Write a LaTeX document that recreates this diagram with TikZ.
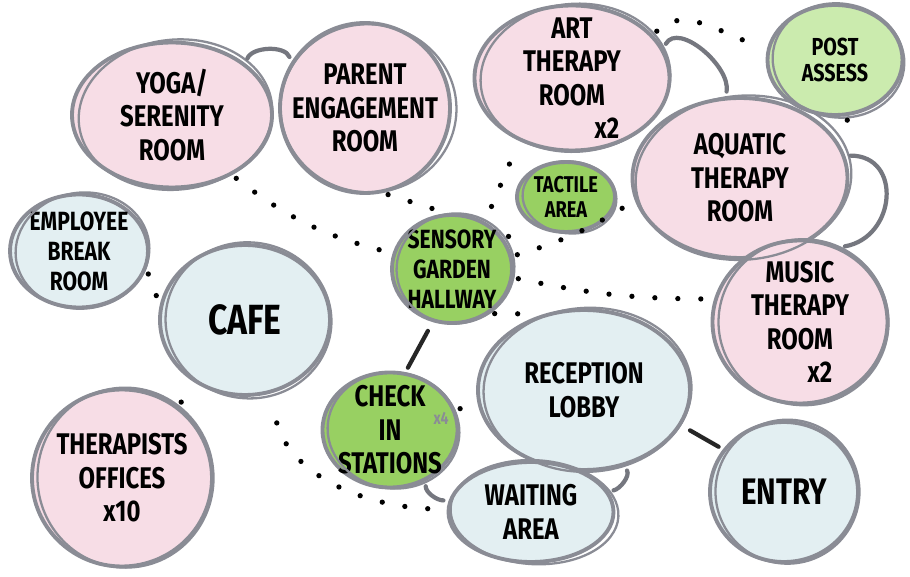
\documentclass[tikz,border=0pt]{standalone}
\usepackage{fontspec}
\usetikzlibrary{positioning,shapes.geometric}
\newfontfamily\hand[FakeStretch=0.8]{Fira Sans}
\definecolor{bubPink}{HTML}{F7DDE6}
\definecolor{bubBlue}{HTML}{E3EFF2}
\definecolor{bubGreen}{HTML}{98D062}
\definecolor{bubLime}{HTML}{CBEBAE}
\definecolor{rimGray}{HTML}{8A8C95}

\begin{document}
\begin{tikzpicture}[x=0.2mm, y=-0.2mm,
        bub/.style={ellipse, draw=rimGray, line width=2.2pt, inner sep=-4mm, align=center,
            font=\hand\bfseries\fontsize{17}{19}\selectfont},
        pinkbub/.style={bub, fill=bubPink},
        bluebub/.style={bub, fill=bubBlue},
        greenbub/.style={bub, fill=bubGreen},
        limebub/.style={bub, fill=bubLime},
        rim/.style={draw=rimGray, line width=1.3pt},
        dotlink/.style={draw=black, line width=3pt, line cap=round, dash pattern=on 0pt off 4.6mm,
            shorten <=3pt, shorten >=3pt},
        solidlink/.style={draw=black!85, line width=2.4pt, line cap=round, shorten <=2mm, shorten >=1mm},
        arclink/.style={draw=rimGray!85!black, line width=2.4pt, line cap=round, shorten <=3pt, shorten >=3pt},
        note/.style={text=rimGray, font=\hand\bfseries\fontsize{10}{11}\selectfont}
    ]

    \fill[white] (0,0) rectangle (910,577);
    \useasboundingbox (0,0) rectangle (910,577);

    % top row
    \node[pinkbub, minimum width=40mm, minimum height=29mm] (yoga) at (172,115) {YOGA/\\SERENITY\\ROOM};
    \node[pinkbub, minimum width=34mm, minimum height=34mm] (parent) at (365,108) {PARENT\\ENGAGEMENT\\ROOM};
    \node[pinkbub, minimum width=39mm, minimum height=29mm] (art) at (572,78) {ART\\THERAPY\\ROOM\\\hspace*{14mm}x2};
    \node[limebub, minimum width=27mm, minimum height=22mm, font=\hand\bfseries\fontsize{14}{15}\selectfont] (post) at (835,60) {POST\\ASSESS};
    \node[pinkbub, minimum width=43mm, minimum height=32mm] (aquatic) at (740,178) {AQUATIC\\THERAPY\\ROOM};

    % middle row
    \node[greenbub, minimum width=19.6mm, minimum height=14mm, font=\hand\bfseries\fontsize{13}{14}\selectfont] (tactile) at (566,197) {TACTILE\\AREA};
    \node[bluebub, minimum width=27.6mm, minimum height=22.6mm, font=\hand\bfseries\fontsize{15}{17}\selectfont] (employee) at (79,251) {EMPLOYEE\\BREAK\\ROOM};
    \node[bluebub, minimum width=34mm, minimum height=30mm, font=\hand\bfseries\fontsize{24}{26}\selectfont] (cafe) at (245,320) {CAFE};
    \node[greenbub, minimum width=24mm, minimum height=21.6mm, font=\hand\bfseries\fontsize{15}{17}\selectfont] (sensory) at (452,269) {SENSORY\\GARDEN\\HALLWAY};
    \node[pinkbub, minimum width=35mm, minimum height=32.6mm] (music) at (800,322) {MUSIC\\THERAPY\\ROOM\\\hspace*{8mm}x2};

    % bottom row
    \node[bluebub, minimum width=42.4mm, minimum height=32mm] (reception) at (584,390) {RECEPTION\\LOBBY};
    \node[greenbub, minimum width=27mm, minimum height=23mm] (checkin) at (390,430) {CHECK\\IN\\STATIONS};
    \node[note] (fourx) at (441,418) {x4};
    \node[pinkbub, minimum width=36mm, minimum height=35.4mm] (therapist) at (122,478) {THERAPISTS\\OFFICES\\x10};
    \node[bluebub, minimum width=33mm, minimum height=20mm] (waiting) at (531,512) {WAITING\\AREA};
    \node[bluebub, minimum width=29.6mm, minimum height=28mm, font=\hand\bfseries\fontsize{21}{23}\selectfont] (entry) at (784,492) {ENTRY};

    % second marker stroke round each bubble
    \foreach \n/\rx/\ry/\a in {yoga/97/75/6, parent/88/84/-5, art/95/74/4, post/66/57/-8,
            aquatic/108/82/5, tactile/47/36/-6, employee/67/58/7, cafe/83/78/-6,
            sensory/59/55/8, music/85/83/-4, reception/104/82/3, checkin/66/58/-7,
            therapist/88/90/6, waiting/84/52/-3, entry/72/72/5}
        \draw[rim, rotate around={\a:(\n.center)}] ([xshift=2pt]\n.center) ellipse [x radius=\rx, y radius=\ry];

    % rooms that touch
    \draw[arclink] (yoga.35) to[out=70,in=110] (parent.148);
    \draw[arclink] (art.18) to[out=60,in=80] (aquatic.100);
    \draw[arclink] (aquatic.12) to[out=0,in=10,looseness=1.6] (music.62);
    \draw[arclink] (checkin.-55) to[out=-90,in=180] (waiting.172);
    \draw[arclink] (reception.-62) to[out=-60,in=10] (waiting.15);

    % direct links
    \draw[solidlink] (reception.-20) -- (entry.145);
    \draw[solidlink] (sensory.-110) -- (checkin.75);

    % nearby links
    \draw[dotlink] (yoga.-45) to[bend right=12] (sensory.165);
    \draw[dotlink] (parent.-78) -- (sensory.95);
    \draw[dotlink, shorten <=5mm] (art.-130) -- (sensory.55);
    \draw[dotlink] (sensory.28) -- (tactile.-155);
    \draw[dotlink] (sensory.12) to[bend right=8] (aquatic.-168);
    \draw[dotlink] (sensory.-8) to[bend right=6] (music.165);
    \draw[dotlink] (sensory.-50) -- (reception.118);
    \draw[dotlink] (art.28) to[out=45,in=165] (post.170);
    \draw[dotlink] (post.-75) -- (aquatic.22);
    \draw[dotlink] (employee.-15) -- (cafe.170);
    \draw[dotlink] (therapist.52) -- (cafe.-128);
    \draw[dotlink, shorten <=6mm] (cafe.-72) to[out=-75,in=180] (waiting.178);
    \draw[dotlink] (checkin.15) -- (reception.182);

\end{tikzpicture}
\end{document}
